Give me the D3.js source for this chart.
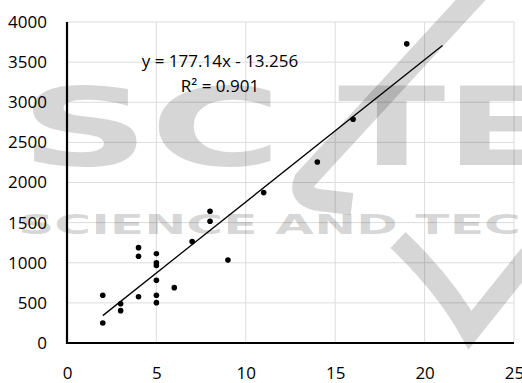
<!DOCTYPE html>
<html>
<head>
<meta charset="utf-8">
<script src="https://cdn.jsdelivr.net/npm/d3@7/dist/d3.min.js"></script>
<style>
  html, body { margin: 0; padding: 0; background: #fff; }
  svg { display: block; }
</style>
</head>
<body>
<svg id="chart" width="522" height="383"></svg>
<script>
// ---- data ----
const xValues = [2, 2, 3, 3, 4, 4, 4, 5, 5, 5, 5, 5, 5, 6, 7, 8, 8, 9, 11, 14, 16, 19];
const yValues = [595, 250, 490, 403, 1188, 1081, 577, 1113, 1000, 965, 782, 595, 503, 690, 1265, 1642, 1517, 1033, 1874, 2255, 2789, 3728];
const xTicks = [0, 5, 10, 15, 20, 25];
const yTicks = [0, 500, 1000, 1500, 2000, 2500, 3000, 3500, 4000];
const trendSlope = 177.14;
const trendIntercept = -13.256;
const trendRange = [2, 21];
const equationLines = ["y = 177.14x - 13.256", "R² = 0.901"];
const watermarkBig = ["SC", "TE"];
const watermarkSmall = "SCIENCE AND TECH";

// ---- layout ----
const svg = d3.select("#chart");
const plotLeft = 67, plotRight = 514, plotTop = 22, plotBottom = 343;
const x = d3.scaleLinear().domain([0, 25]).range([plotLeft, plotRight]);
const y = d3.scaleLinear().domain([0, 4000]).range([plotBottom, plotTop]);
const font = "'Open Sans', 'Liberation Sans', sans-serif";

// gridlines
svg.append("g").selectAll("line").data(yTicks.filter(d => d > 0)).join("line")
  .attr("x1", plotLeft).attr("x2", plotRight)
  .attr("y1", d => y(d)).attr("y2", d => y(d))
  .attr("stroke", "#dcdcdc").attr("stroke-width", 1);
svg.append("g").selectAll("line").data(xTicks.filter(d => d > 0)).join("line")
  .attr("x1", d => x(d)).attr("x2", d => x(d))
  .attr("y1", plotTop).attr("y2", plotBottom)
  .attr("stroke", "#dcdcdc").attr("stroke-width", 1);

// watermark
const wm = svg.append("g").attr("fill", "#000").attr("fill-opacity", 0.16);
wm.append("text").attr("x", 20).attr("y", 165)
  .attr("font-family", "'DejaVu Sans', sans-serif").attr("font-weight", "bold")
  .attr("font-size", 108).attr("textLength", 262).attr("lengthAdjust", "spacingAndGlyphs")
  .text(watermarkBig[0]);
wm.append("text").attr("x", 338).attr("y", 165)
  .attr("font-family", "'DejaVu Sans', sans-serif").attr("font-weight", "bold")
  .attr("font-size", 108).attr("textLength", 215).attr("lengthAdjust", "spacingAndGlyphs")
  .text(watermarkBig[1]);
wm.append("text").attr("x", 18).attr("y", 234)
  .attr("font-family", "'DejaVu Sans', sans-serif").attr("font-weight", "bold")
  .attr("font-size", 26).attr("textLength", 545).attr("lengthAdjust", "spacingAndGlyphs")
  .text(watermarkSmall);
const wp = svg.append("g").attr("fill", "none").attr("stroke", "#000").attr("stroke-opacity", 0.16)
  .attr("stroke-width", 22).attr("stroke-linecap", "butt");
wp.append("path").attr("d", "M478,-8 L305,180 Q298,196 318,200 L352,204");
wp.append("path").attr("d", "M398,240 Q445,285 470,330 L530,255");

// axes lines
svg.append("line").attr("x1", plotLeft).attr("x2", plotLeft).attr("y1", plotTop).attr("y2", plotBottom + 1)
  .attr("stroke", "#000").attr("stroke-width", 2.2);
svg.append("line").attr("x1", plotLeft - 1).attr("x2", plotRight).attr("y1", plotBottom).attr("y2", plotBottom)
  .attr("stroke", "#000").attr("stroke-width", 2.2);

// tick labels via d3 axes
const yAxis = d3.axisLeft(y).tickValues(yTicks).tickSize(0).tickPadding(0).tickFormat(d3.format("d"));
const gy = svg.append("g").attr("transform", `translate(${plotLeft - 20},0)`).call(yAxis);
gy.select(".domain").remove();
gy.selectAll("text").attr("font-family", font).attr("font-size", 17).attr("fill", "#000");

const xAxis = d3.axisBottom(x).tickValues(xTicks).tickSize(0).tickPadding(0).tickFormat(d3.format("d"));
const gx = svg.append("g").attr("transform", `translate(0,${plotBottom + 24})`).call(xAxis);
gx.select(".domain").remove();
gx.selectAll("text").attr("font-family", font).attr("font-size", 17).attr("fill", "#000");

// trendline
svg.append("line")
  .attr("x1", x(trendRange[0])).attr("y1", y(trendSlope * trendRange[0] + trendIntercept))
  .attr("x2", x(trendRange[1])).attr("y2", y(trendSlope * trendRange[1] + trendIntercept))
  .attr("stroke", "#000").attr("stroke-width", 1.3);

// points
svg.append("g").selectAll("circle").data(xValues.map((v, i) => [v, yValues[i]])).join("circle")
  .attr("cx", d => x(d[0])).attr("cy", d => y(d[1])).attr("r", 2.8).attr("fill", "#000");

// equation
svg.append("g").selectAll("text").data(equationLines).join("text")
  .attr("x", 220).attr("y", (d, i) => 67 + i * 25)
  .attr("text-anchor", "middle")
  .attr("font-family", font).attr("font-size", 17).attr("fill", "#000")
  .text(d => d);
</script>
</body>
</html>
